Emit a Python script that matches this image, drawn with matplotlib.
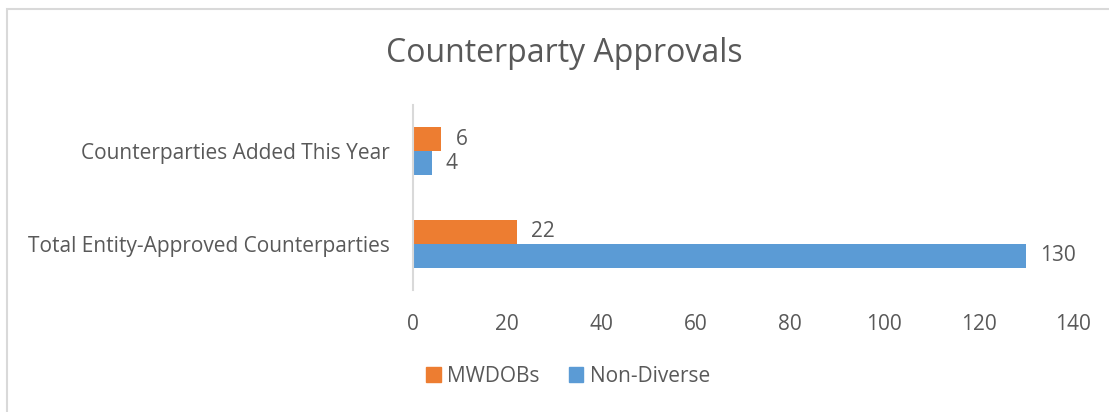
import matplotlib.pyplot as plt
import matplotlib.patches as mpatches
import numpy as np

categories = ["Total Entity-Approved Counterparties", "Counterparties Added This Year"]
mwdobs = [22, 6]
non_diverse = [130, 4]
x_ticks = [0, 20, 40, 60, 80, 100, 120, 140]

orange = "#ED7D31"
blue = "#5B9BD5"
text_col = "#595959"
grid_col = "#D9D9D9"

plt.rcParams['font.family'] = ['Open Sans', 'DejaVu Sans']

fig = plt.figure(figsize=(11.09, 4.12), dpi=100)
ax = fig.add_axes([413 / 1109, 1 - 290 / 412, (1073 - 413) / 1109, 185 / 412])

# chart area border (left/top visible only)
fig.add_artist(mpatches.Rectangle((6.5 / 1109, -0.1), 1.2, 1 - 8.5 / 412 + 0.1,
                                  transform=fig.transFigure, fill=False,
                                  edgecolor=grid_col, lw=1.5))

y = np.arange(len(categories))
h = 0.26
b1 = ax.barh(y - h / 2, non_diverse, height=h, color=blue, label="Non-Diverse")
b2 = ax.barh(y + h / 2, mwdobs, height=h, color=orange, label="MWDOBs")

for bars, vals in ((b1, non_diverse), (b2, mwdobs)):
    for bar, v in zip(bars, vals):
        ax.text(bar.get_width() + 3.0, bar.get_y() + bar.get_height() / 2, str(v),
                va='center', ha='left', fontsize=15, color=text_col)

ax.set_xlim(0, 140)
ax.set_ylim(-0.5, 1.5)
ax.set_xticks(x_ticks)
ax.set_yticks(y)
ax.set_yticklabels(categories)
ax.tick_params(axis='both', length=0, labelsize=15, colors=text_col)
ax.tick_params(axis='x', pad=17)
ax.tick_params(axis='y', pad=17)
for s in ('top', 'right', 'bottom'):
    ax.spines[s].set_visible(False)
ax.spines['left'].set_color(grid_col)
ax.spines['left'].set_linewidth(1.5)

fig.text(564 / 1109, 1 - 53 / 412, "Counterparty Approvals", ha='center', va='center',
         fontsize=23, color=text_col)

handles = [mpatches.Patch(color=orange, label="MWDOBs"),
           mpatches.Patch(color=blue, label="Non-Diverse")]
fig.legend(handles=handles, loc='center', bbox_to_anchor=(568 / 1109, 1 - 376 / 412),
           ncol=2, frameon=False, fontsize=15, labelcolor=text_col,
           handlelength=0.7, handleheight=0.7, handletextpad=0.3, columnspacing=1.4)

fig.savefig("out.png", dpi=100)
